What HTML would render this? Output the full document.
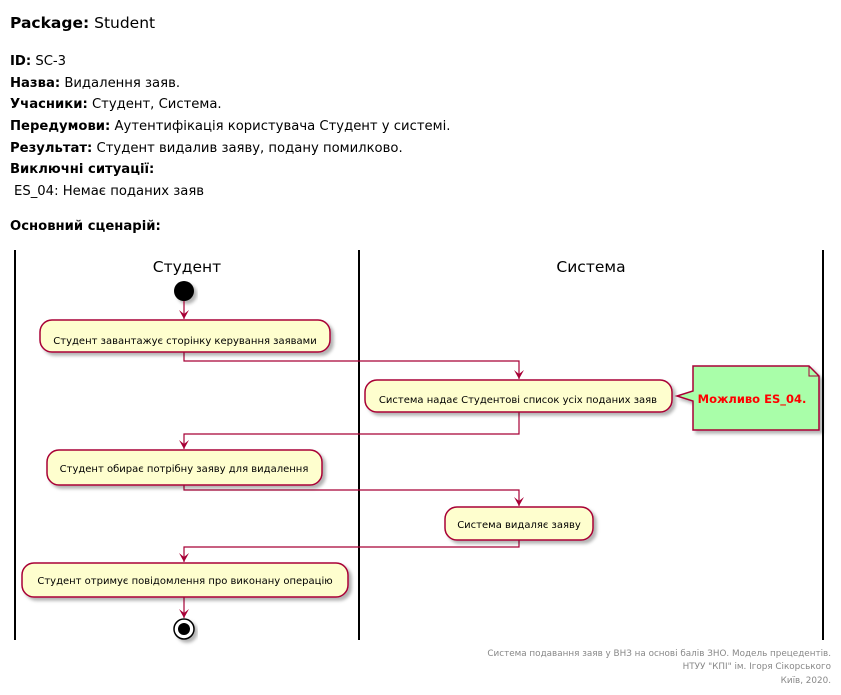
<!DOCTYPE html>
<html><head><meta charset="utf-8"><style>
body{margin:0;background:#fff;}
svg{display:block;font-family:"DejaVu Sans","Liberation Sans",sans-serif;}
</style></head><body>
<svg width="841" height="695" viewBox="0 0 841 695" xmlns="http://www.w3.org/2000/svg">
<defs>
<filter id="sh" x="-10%" y="-10%" width="130%" height="150%"><feDropShadow dx="3" dy="3" stdDeviation="1.5" flood-color="#000" flood-opacity="0.3"/></filter>
<marker id="ar" markerWidth="10" markerHeight="10" refX="9" refY="5" orient="auto" markerUnits="userSpaceOnUse"><path d="M0,0 L9,5 L0,10 L4,5 Z" fill="#A80036"/></marker>
</defs>
<g font-size="13.2" fill="#000">
<text x="10" y="28" font-size="15.5"><tspan font-weight="bold">Package:</tspan> Student</text>
<text x="10" y="65"><tspan font-weight="bold">ID:</tspan> SC-3</text>
<text x="10" y="87"><tspan font-weight="bold">Назва:</tspan> Видалення заяв.</text>
<text x="10" y="108"><tspan font-weight="bold">Учасники:</tspan> Студент, Система.</text>
<text x="10" y="130"><tspan font-weight="bold">Передумови:</tspan> Аутентифікація користувача Студент у системі.</text>
<text x="10" y="152"><tspan font-weight="bold">Результат:</tspan> Студент видалив заяву, подану помилково.</text>
<text x="10" y="173" font-weight="bold">Виключні ситуації:</text>
<text x="14" y="195">ES_04: Немає поданих заяв</text>
<text x="10" y="230" font-weight="bold">Основний сценарій:</text>
</g>
<g stroke="#000" stroke-width="2">
<line x1="15" y1="250" x2="15" y2="640"/>
<line x1="359" y1="250" x2="359" y2="640"/>
<line x1="823" y1="250" x2="823" y2="640"/>
</g>
<text x="187" y="272" font-size="15.5" text-anchor="middle">Студент</text>
<text x="591" y="272" font-size="15.5" text-anchor="middle">Система</text>
<circle cx="184" cy="291" r="10" fill="#000" filter="url(#sh)"/>
<g stroke="#A80036" stroke-width="1.2" fill="none">
<line x1="184" y1="301" x2="184" y2="319" marker-end="url(#ar)"/>
<polyline points="184,352 184,361 519,361 519,379" marker-end="url(#ar)"/>
<polyline points="519,412 519,434 184,434 184,449" marker-end="url(#ar)"/>
<polyline points="184,485 184,490 519,490 519,506" marker-end="url(#ar)"/>
<polyline points="519,540 519,547 184,547 184,562" marker-end="url(#ar)"/>
<line x1="184" y1="597" x2="184" y2="618" marker-end="url(#ar)"/>
</g>
<g fill="#FEFECE" stroke="#A80036" stroke-width="1.5" filter="url(#sh)">
<rect x="40" y="320" width="290" height="32" rx="12"/>
<rect x="365" y="380" width="307" height="32" rx="12"/>
<rect x="47" y="450" width="275" height="35" rx="12"/>
<rect x="445" y="507" width="148" height="33" rx="12"/>
<rect x="22" y="563" width="326" height="34" rx="12"/>
<path d="M693,366 L809,366 L819,376 L819,430 L693,430 L693,401 L677,396 L693,391 Z" fill="#A9FEA9"/>
</g>
<path d="M809,366 L809,376 L819,376" fill="none" stroke="#A80036" stroke-width="1"/>
<g font-size="10" text-anchor="middle" fill="#000">
<text x="185" y="344">Студент завантажує сторінку керування заявами</text>
<text x="518" y="403">Система надає Студентові список усіх поданих заяв</text>
<text x="184" y="472">Студент обирає потрібну заяву для видалення</text>
<text x="519" y="528">Система видаляє заяву</text>
<text x="185" y="584">Студент отримує повідомлення про виконану операцію</text>
</g>
<text x="752" y="403" font-size="11.5" font-weight="bold" fill="#FF0000" text-anchor="middle">Можливо ES_04.</text>
<circle cx="184" cy="629" r="10" fill="#fff" stroke="#000" stroke-width="1.5" filter="url(#sh)"/>
<circle cx="184" cy="629" r="6" fill="#000"/>
<g font-size="8.8" fill="#888" text-anchor="end">
<text x="831" y="656">Система подавання заяв у ВНЗ на основі балів ЗНО. Модель прецедентів.</text>
<text x="831" y="669">НТУУ "КПІ" ім. Ігоря Сікорського</text>
<text x="831" y="683">Київ, 2020.</text>
</g>
</svg>
</body></html>
